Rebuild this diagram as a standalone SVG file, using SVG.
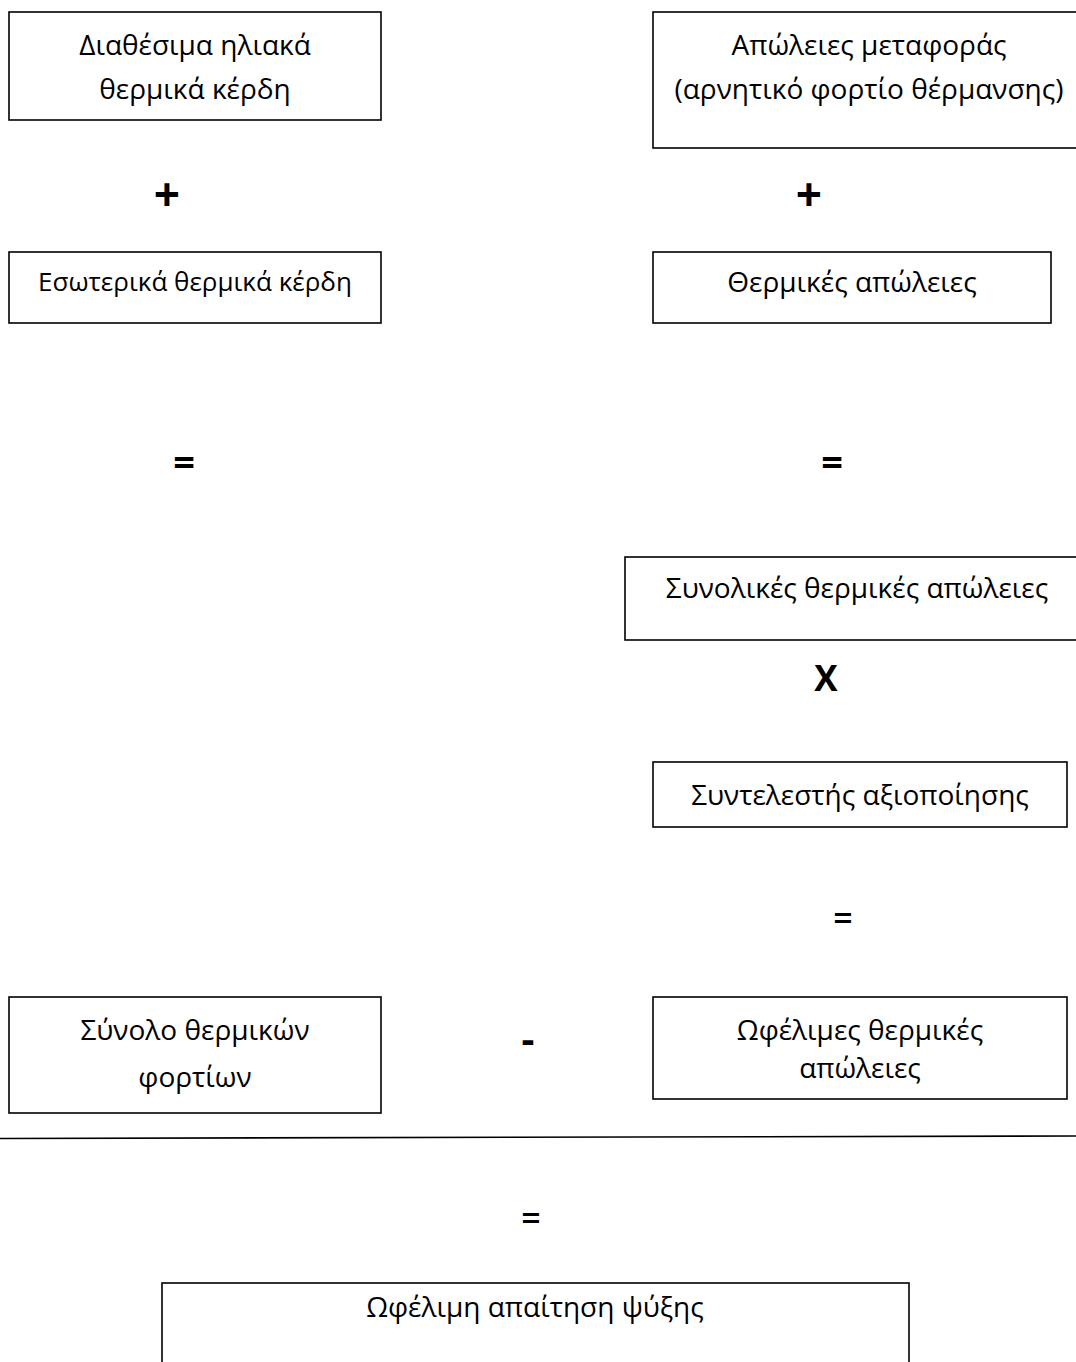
<svg xmlns="http://www.w3.org/2000/svg" width="1076" height="1362" viewBox="0 0 1076 1362">
<style>
.box{fill:#fff;stroke:#000;stroke-width:1.6}
.t{font-family:"Open Sans","Noto Sans","DejaVu Sans",sans-serif;font-size:28px;fill:#000;text-anchor:middle}
.op{font-family:"Open Sans","Noto Sans","DejaVu Sans",sans-serif;font-weight:bold;fill:#000;text-anchor:middle}
.plus{font-size:46px}
.eq{font-size:38px}
.eqs{font-size:34px;font-weight:600}
.x{font-size:35px}
.minus{font-size:40px}
</style>
<rect width="1076" height="1362" fill="#fff"/>
<g id="n1"><rect class="box" x="9" y="12" width="372" height="108"/><text class="t" x="195" y="55">Διαθέσιμα ηλιακά</text><text class="t" x="195" y="99">θερμικά κέρδη</text></g>
<g id="n2"><rect class="box" x="653" y="12" width="430" height="136"/><text class="t" x="869" y="55">Απώλειες μεταφοράς</text><text class="t" x="869" y="99">(αρνητικό φορτίο θέρμανσης)</text></g>
<g id="n3"><rect class="box" x="9" y="252" width="372" height="71"/><text class="t" x="195" y="291" style="font-size:26px">Εσωτερικά θερμικά κέρδη</text></g>
<g id="n4"><rect class="box" x="653" y="252" width="398" height="71"/><text class="t" x="852" y="292">Θερμικές απώλειες</text></g>
<g id="n5"><rect class="box" x="625" y="557" width="458" height="83"/><text class="t" x="857" y="598">Συνολικές θερμικές απώλειες</text></g>
<g id="n6"><rect class="box" x="653" y="762" width="414" height="65"/><text class="t" x="860" y="805">Συντελεστής αξιοποίησης</text></g>
<g id="n7"><rect class="box" x="9" y="997" width="372" height="116"/><text class="t" x="195" y="1040">Σύνολο θερμικών</text><text class="t" x="195" y="1087">φορτίων</text></g>
<g id="n8"><rect class="box" x="653" y="997" width="414" height="102"/><text class="t" x="860" y="1040">Ωφέλιμες θερμικές</text><text class="t" x="860" y="1078">απώλειες</text></g>
<g id="n9"><rect class="box" x="162" y="1283" width="747" height="100"/><text class="t" x="535" y="1317">Ωφέλιμη απαίτηση ψύξης</text></g>
<g id="connectors">
<line x1="0" y1="1138.5" x2="1076" y2="1136" stroke="#000" stroke-width="1.6"/>
<text class="op plus" x="167" y="211">+</text>
<text class="op plus" x="809" y="211">+</text>
<text class="op eq" x="184" y="476">=</text>
<text class="op eq" x="832" y="476">=</text>
<text class="op x" x="826" y="691">X</text>
<text class="op eqs" x="843" y="930">=</text>
<text class="op minus" x="528" y="1053">-</text>
<text class="op eqs" x="531" y="1230">=</text>
</g>
</svg>
